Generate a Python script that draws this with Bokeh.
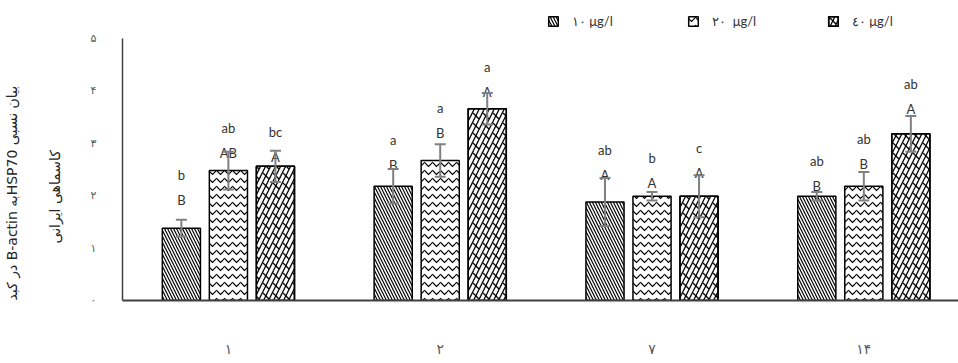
from bokeh.plotting import figure
from bokeh.models import (ColumnDataSource, Range1d, FixedTicker, Whisker, TeeHead,
                          Legend, LegendItem, Title)
from bokeh.core.properties import value
from bokeh.embed import file_html
from bokeh.resources import INLINE

# ---------------- data ----------------
days = ["۱", "۲", "۷", "۱۴"]
series = ["۱۰ μg/l", "۲۰  μg/l", "٤۰ μg/l"]

v10 = [1.38, 2.18, 1.88, 1.99]
v20 = [2.48, 2.67, 1.99, 2.18]
v40 = [2.56, 3.66, 1.99, 3.18]

e10 = [0.16, 0.33, 0.46, 0.08]
e20 = [0.36, 0.31, 0.08, 0.27]
e40 = [0.30, 0.30, 0.40, 0.34]

up10 = ["B", "B", "A", "B"]
up20 = ["AB", "B", "A", "B"]
up40 = ["A", "A", "A", "A"]
lo10 = ["b", "a", "ab", "ab"]
lo20 = ["ab", "a", "b", "ab"]
lo40 = ["bc", "a", "c", "ab"]

# height (data units) at which the letters sit
lh10 = [1.91, 2.58, 2.39, 2.19]
lh20 = [2.82, 3.19, 2.25, 2.61]
lh40 = [2.73, 3.97, 2.44, 3.66]

y_ticks = [0, 1, 2, 3, 4, 5]
y_tick_labels = ["۰", "۱", "۲", "۳", "۴", "۵"]

y_title_1 = "\u202bبیان نسبی HSP70به B-actin در کبد\u202c"
y_title_2 = "\u202bکاسماهی ایرانی\u202c"

# ---------------- figure ----------------
FONT = "Lato"
TXT = "#333333"
GRAY = "#595959"

p = figure(width=958, height=363, output_backend="svg", toolbar_location=None,
           x_range=Range1d(0, 3.947), y_range=Range1d(0, 5.725),
           min_border_left=122, min_border_right=0, min_border_top=0,
           min_border_bottom=63)
p.outline_line_color = None
p.grid.visible = False
p.background_fill_color = "white"
p.border_fill_color = "white"

offsets = [-0.222, 0.0, 0.222]
vals = [v10, v20, v40]
errs = [e10, e20, e40]
ups = [up10, up20, up40]
los = [lo10, lo20, lo40]
lhs = [lh10, lh20, lh40]
hatches = [dict(hatch_pattern="left_diagonal_line", hatch_scale=6, hatch_weight=1.2),
           dict(hatch_pattern="horizontal_wave", hatch_scale=8, hatch_weight=1.2),
           dict(hatch_pattern="right_diagonal_line", hatch_scale=10, hatch_weight=1.3)]

legend_renderers = []
for k in range(3):
    xs = [i + 0.5 + offsets[k] for i in range(len(days))]
    src = ColumnDataSource(dict(
        x=xs, top=vals[k],
        upper=[v + e for v, e in zip(vals[k], errs[k])],
        lower=[v - e for v, e in zip(vals[k], errs[k])],
        up=ups[k], lo=los[k], lh=lhs[k]))
    r = p.vbar(x="x", top="top", width=0.18, source=src, fill_color="white",
               line_color="black", line_width=1.5, hatch_color="black",
               **hatches[k])
    rs = [r]
    if k == 2:
        # cross dashes over the diagonal lines -> diagonal brick look
        r2 = p.vbar(x="x", top="top", width=0.18, source=src, fill_alpha=0,
                    line_color="black", line_width=1.5, hatch_color="black",
                    hatch_pattern="left_diagonal_dash", hatch_scale=10,
                    hatch_weight=1.3)
        rs.append(r2)
    legend_renderers.append(rs)
    w = Whisker(base="x", upper="upper", lower="lower", source=src,
                dimension="height", line_color="#808080", line_width=2,
                upper_head=TeeHead(size=11, line_color="#808080", line_width=2),
                lower_head=TeeHead(size=11, line_color="#808080", line_width=2),
                level="overlay")
    p.add_layout(w)
    p.text(x="x", y="lh", text="up", source=src, text_align="center",
           text_baseline="middle", text_font=value(FONT), text_font_size="13px",
           text_color=TXT)
    p.text(x="x", y="lh", text="lo", source=src, text_align="center",
           text_baseline="middle", text_font=value(FONT), text_font_size="13px",
           text_color=TXT, y_offset=-25)

# axes
xa = p.xaxis[0]
xa.ticker = FixedTicker(ticks=[i + 0.5 for i in range(len(days))])
xa.major_label_overrides = {i + 0.5: d for i, d in enumerate(days)}
xa.major_tick_out = 0
xa.major_tick_in = 0
xa.minor_tick_out = 0
xa.minor_tick_in = 0
xa.major_label_standoff = 40
xa.major_label_text_font = "DejaVu Sans"
xa.major_label_text_font_size = "14px"
xa.major_label_text_color = GRAY
xa.axis_line_color = "#404040"
xa.axis_line_width = 2

ya = p.yaxis[0]
ya.ticker = FixedTicker(ticks=y_ticks)
ya.major_label_overrides = {t: l for t, l in zip(y_ticks, y_tick_labels)}
ya.bounds = (0, 5)
ya.major_tick_out = 0
ya.major_tick_in = 0
ya.minor_tick_out = 0
ya.minor_tick_in = 0
ya.major_label_standoff = 26
ya.major_label_text_font = "DejaVu Sans"
ya.major_label_text_font_size = "11px"
ya.major_label_text_color = GRAY
ya.axis_line_color = "#404040"
ya.axis_line_width = 1.5

# y-axis title: two rotated lines left of the axis
t2 = Title(text=y_title_2, align="left", offset=57, standoff=50,
           text_font="DejaVu Sans", text_font_size="14px", text_font_style="normal",
           text_color="#262626")
p.add_layout(t2, "left")
t1 = Title(text=y_title_1, align="left", offset=0, standoff=0,
           text_font="DejaVu Sans", text_font_size="14px", text_font_style="normal",
           text_color="#262626")
p.add_layout(t1, "left")

legend = Legend(items=[LegendItem(label=series[k], renderers=legend_renderers[k]) for k in range(3)],
                orientation="horizontal", location=(425, 271), padding=0, margin=0,
                spacing=15, label_width=100, label_standoff=13,
                glyph_width=12, glyph_height=12, label_height=12,
                border_line_color=None, background_fill_alpha=0,
                label_text_font=FONT, label_text_font_size="13px",
                label_text_color=TXT, label_text_baseline="middle")
p.add_layout(legend, "center")

open("out.html", "w").write(file_html(p, INLINE))
